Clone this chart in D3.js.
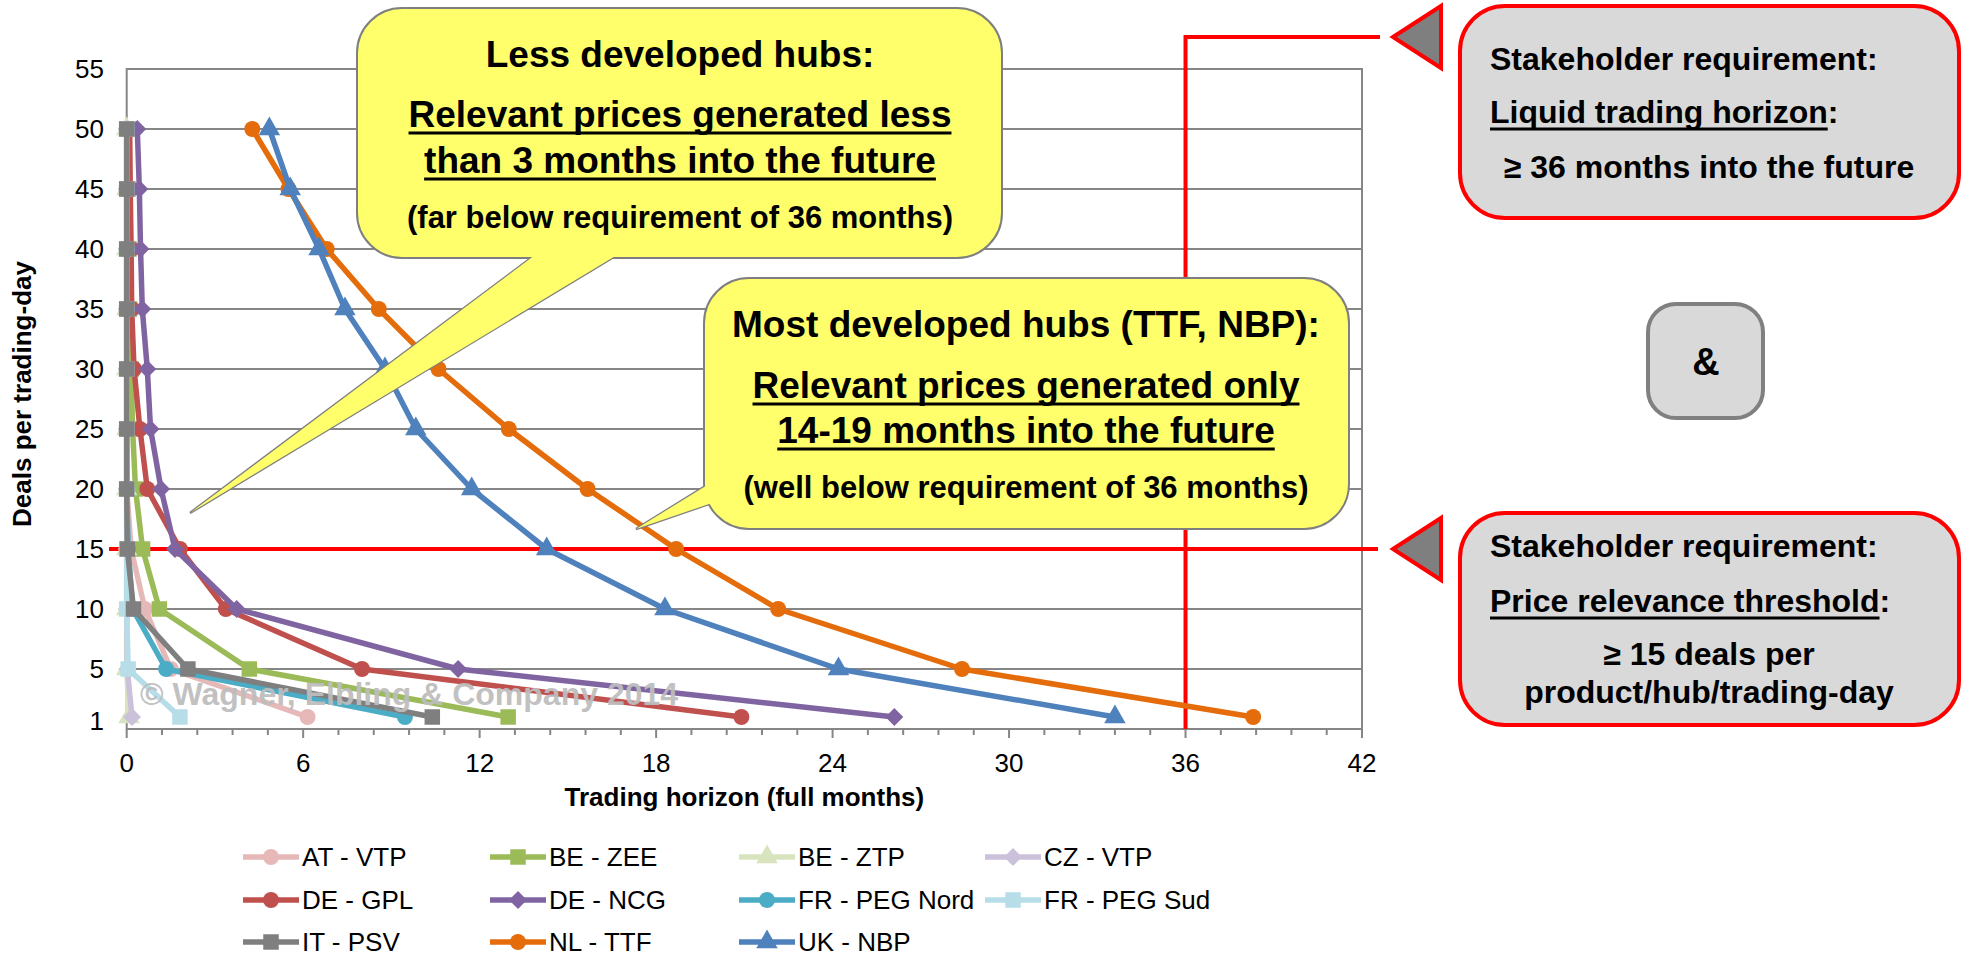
<!DOCTYPE html>
<meta charset="utf-8">
<style>
  body { margin: 0; background: #fff; }
  svg text { font-family: "Liberation Sans", Arial, sans-serif; }
</style>
<script src="https://d3js.org/d3.v7.min.js"></script>
<div id="chart"></div>
<script>
// deals-per-day thresholds (y) and the trading horizon reached per hub (x, months)
const levels = [50, 45, 40, 35, 30, 25, 20, 15, 10, 5, 1];
const hubNames = ["AT - VTP", "BE - ZEE", "BE - ZTP", "CZ - VTP", "DE - GPL", "DE - NCG",
                  "FR - PEG Nord", "FR - PEG Sud", "IT - PSV", "NL - TTF", "UK - NBP"];
const hubColors = ["#E6B9B8", "#9BBB59", "#D7E4BD", "#CCC1DA", "#C0504D", "#8064A2",
                   "#4BACC6", "#B7DEE8", "#7F7F7F", "#E46C0A", "#4F81BD"];
const hubMarkers = ["circle", "square", "triangle", "diamond", "circle", "diamond",
                    "circle", "square", "square", "circle", "triangle"];

const horizonAT    = [0, 0, 0, 0, 0, 0, 0, 0.15, 0.62, 1.5, 6.15];
const horizonBEZEE = [0.05, 0.05, 0.08, 0.1, 0.15, 0.2, 0.3, 0.54, 1.11, 4.17, 12.97];
const horizonBEZTP = [0, 0, 0, 0, 0, 0, 0, 0, 0, 0, 0.08];
const horizonCZ    = [0, 0, 0, 0, 0, 0, 0, 0, 0, 0.02, 0.18];
const horizonGPL   = [0.1, 0.12, 0.15, 0.17, 0.25, 0.45, 0.7, 1.81, 3.37, 8.0, 20.9];
const horizonNCG   = [0.36, 0.43, 0.47, 0.53, 0.7, 0.81, 1.17, 1.64, 3.74, 11.27, 26.1];
const horizonPEGN  = [0, 0, 0, 0, 0, 0, 0, 0.05, 0.2, 1.34, 9.46];
const horizonPEGS  = [0, 0, 0, 0, 0, 0, 0, 0, 0, 0.05, 1.81];
const horizonPSV   = [0, 0, 0, 0, 0, 0, 0, 0.02, 0.23, 2.08, 10.39];
const horizonTTF   = [4.27, 5.5, 6.8, 8.57, 10.6, 12.99, 15.67, 18.68, 22.15, 28.4, 38.3];
const horizonNBP   = [4.85, 5.56, 6.54, 7.42, 8.78, 9.83, 11.73, 14.28, 18.3, 24.2, 33.6];

const horizons = [horizonAT, horizonBEZEE, horizonBEZTP, horizonCZ, horizonGPL, horizonNCG,
                  horizonPEGN, horizonPEGS, horizonPSV, horizonTTF, horizonNBP];

const xTicks = [0, 6, 12, 18, 24, 30, 36, 42];
const yTicks = [1, 5, 10, 15, 20, 25, 30, 35, 40, 45, 50, 55];
const requiredDeals = 15;
const requiredMonths = 36;

const W = 1970, H = 956;
const plot = {left: 126.7, right: 1362, top: 69, bottom: 729};

const svg = d3.select("#chart").append("svg")
    .attr("width", W).attr("height", H);

const x = d3.scaleLinear().domain([0, 42]).range([plot.left, plot.right]);
const y = d3.scaleLinear().domain([0, 55]).range([plot.bottom, plot.top]);

// gridlines
svg.append("g").selectAll("line")
  .data(yTicks.filter(d => d >= 5))
  .join("line")
    .attr("x1", plot.left).attr("x2", plot.right)
    .attr("y1", d => y(d)).attr("y2", d => y(d))
    .attr("stroke", "#868686").attr("stroke-width", 2);

svg.append("rect")
    .attr("x", plot.left).attr("y", plot.top)
    .attr("width", plot.right - plot.left).attr("height", plot.bottom - plot.top)
    .attr("fill", "none").attr("stroke", "#868686").attr("stroke-width", 2);

// x axis with minor ticks every 1.2 months
const xAxis = svg.append("g").attr("transform", `translate(0,${plot.bottom})`);
xAxis.selectAll("line.minor")
  .data(d3.range(0, 42.01, 1.2))
  .join("line")
    .attr("x1", d => x(d)).attr("x2", d => x(d))
    .attr("y1", 0).attr("y2", d => (Math.abs(d / 6 - Math.round(d / 6)) < 1e-6) ? 9 : 6)
    .attr("stroke", "#868686").attr("stroke-width", 2);
xAxis.selectAll("text")
  .data(xTicks)
  .join("text")
    .attr("x", d => x(d)).attr("y", 43)
    .attr("text-anchor", "middle")
    .style("font-size", "26px")
    .text(d => d);

svg.append("g").selectAll("text")
  .data(yTicks)
  .join("text")
    .attr("x", 104).attr("y", d => y(d) + (d === 1 ? 4 : 0))
    .attr("dy", "0.36em")
    .attr("text-anchor", "end")
    .style("font-size", "26px")
    .text(d => d);

svg.append("text")
    .attr("x", (plot.left + plot.right) / 2).attr("y", 806)
    .attr("text-anchor", "middle")
    .style("font-size", "26px").style("font-weight", "bold")
    .text("Trading horizon (full months)");

svg.append("text")
    .attr("transform", "translate(31,394) rotate(-90)")
    .attr("text-anchor", "middle")
    .style("font-size", "26px").style("font-weight", "bold")
    .text("Deals per trading-day");

// requirement lines
const reqLines = svg.append("g").attr("stroke", "#FF0000").attr("stroke-width", 4).attr("fill", "none");
reqLines.append("line")
    .attr("x1", 109).attr("x2", 1378)
    .attr("y1", y(requiredDeals)).attr("y2", y(requiredDeals));
reqLines.append("path")
    .attr("d", `M${x(requiredMonths)},${plot.bottom} V37 H1380`);

// markers
const symbolFor = {
  circle:   d3.symbol(d3.symbolCircle, 200),
  square:   d3.symbol(d3.symbolSquare, 240),
  triangle: d3.symbol(d3.symbolTriangle, 200),
  diamond:  d3.symbol(d3.symbolSquare, 160)
};
function drawMarker(g, kind, cx, cy, color) {
  g.append("path")
    .attr("d", symbolFor[kind]())
    .attr("transform", `translate(${cx},${cy})` + (kind === "diamond" ? " rotate(45)" : ""))
    .attr("fill", color);
}

const line = d3.line().x(d => x(d[0])).y(d => y(d[1]));
hubNames.forEach((name, i) => {
  const pts = horizons[i].map((v, j) => [v, levels[j]]);
  const g = svg.append("g");
  g.append("path")
    .attr("d", line(pts))
    .attr("fill", "none")
    .attr("stroke", hubColors[i])
    .attr("stroke-width", 5.5)
    .attr("stroke-linejoin", "round");
  pts.forEach(p => drawMarker(g, hubMarkers[i], x(p[0]), y(p[1]), hubColors[i]));
});

// watermark
svg.append("text")
    .attr("x", 140).attr("y", 705)
    .style("font-size", "32px").style("font-weight", "bold")
    .attr("fill", "#BDBDBD").attr("fill-opacity", 0.95)
    .text("\u00A9 Wagner, Elbling & Company 2014");

// legend
const legendCols = [243, 490, 739, 985];
const legendRows = [857, 900, 942];
hubNames.forEach((name, i) => {
  const lx = legendCols[i % 4], ly = legendRows[Math.floor(i / 4)];
  const g = svg.append("g");
  g.append("line")
    .attr("x1", lx).attr("x2", lx + 56)
    .attr("y1", ly).attr("y2", ly)
    .attr("stroke", hubColors[i]).attr("stroke-width", 5.5);
  drawMarker(g, hubMarkers[i], lx + 28, ly, hubColors[i]);
  g.append("text")
    .attr("x", lx + 59).attr("y", ly).attr("dy", "0.36em")
    .style("font-size", "26px")
    .text(name);
});

// callouts
function wedgePts(tip, a, b, ext) {
  const push = p => {
    const dx = p[0] - tip[0], dy = p[1] - tip[1], l = Math.hypot(dx, dy);
    return [p[0] + dx / l * ext, p[1] + dy / l * ext];
  };
  return [push(a), tip, push(b)];
}
function callout(box, wedge, fill, stroke, sw) {
  const g = svg.append("g");
  if (wedge) {
    const pts = wedgePts(wedge[0], wedge[1], wedge[2], 14);
    g.append("path").attr("d", d3.line()(pts) + "Z")
      .attr("fill", fill).attr("stroke", stroke).attr("stroke-width", sw + 0.5);
  }
  g.append("rect")
    .attr("x", box.x).attr("y", box.y).attr("width", box.w).attr("height", box.h)
    .attr("rx", box.r).attr("ry", box.r)
    .attr("fill", fill).attr("stroke", stroke).attr("stroke-width", sw);
  if (wedge) {
    const pts = wedgePts(wedge[0], wedge[1], wedge[2], 14);
    g.append("path").attr("d", d3.line()(pts) + "Z").attr("fill", fill);
  }
  return g;
}
function label(g, tx, ty, str, size, anchor, uLen) {
  const t = g.append("text")
    .attr("x", tx).attr("y", ty)
    .attr("text-anchor", anchor)
    .style("font-size", size + "px").style("font-weight", "bold")
    .text(str);
  if (uLen) {
    const node = t.node();
    const bb = node.getBBox();
    const len = uLen === true ? node.getComputedTextLength() : node.getSubStringLength(0, uLen);
    g.append("line")
      .attr("x1", bb.x).attr("x2", bb.x + len)
      .attr("y1", ty + 6).attr("y2", ty + 6)
      .attr("stroke", "#000").attr("stroke-width", 3);
  }
  return t;
}

const c1 = callout({x: 357, y: 8, w: 645, h: 250, r: 45},
                   [[190, 513], [531, 258], [612, 258]], "#FFFF6B", "#7F7F7F", 2);
label(c1, 680, 67, "Less developed hubs:", 37, "middle");
label(c1, 680, 127, "Relevant prices generated less", 37, "middle", true);
label(c1, 680, 173, "than 3 months into the future", 37, "middle", true);
label(c1, 680, 228, "(far below requirement of 36 months)", 31, "middle");

const c2 = callout({x: 704, y: 278, w: 645, h: 251, r: 45},
                   [[636, 529], [704, 487], [706, 505]], "#FFFF6B", "#7F7F7F", 2);
label(c2, 1026, 337, "Most developed hubs (TTF, NBP):", 37, "middle");
label(c2, 1026, 398, "Relevant prices generated only", 37, "middle", true);
label(c2, 1026, 443, "14-19 months into the future", 37, "middle", true);
label(c2, 1026, 498, "(well below requirement of 36 months)", 31, "middle");

// stakeholder requirement boxes
const cA = callout({x: 1460, y: 6, w: 499, h: 212, r: 45}, null, "#D9D9D9", "#FF0000", 4);
label(cA, 1490, 70, "Stakeholder requirement:", 32, "start");
label(cA, 1490, 123, "Liquid trading horizon:", 32, "start", 22);
label(cA, 1709, 178, "\u2265 36 months into the future", 32, "middle");

const cAnd = callout({x: 1648, y: 304, w: 115, h: 114, r: 28}, null, "#D9D9D9", "#808080", 4);
label(cAnd, 1706, 375, "&", 38, "middle");

const cB = callout({x: 1460, y: 513, w: 499, h: 212, r: 45}, null, "#D9D9D9", "#FF0000", 4);
label(cB, 1490, 557, "Stakeholder requirement:", 32, "start");
label(cB, 1490, 612, "Price relevance threshold:", 32, "start", 25);
label(cB, 1709, 665, "\u2265 15 deals per", 32, "middle");
label(cB, 1709, 703, "product/hub/trading-day", 32, "middle");

// pointer triangles
[37, y(requiredDeals)].forEach(cy => {
  svg.append("path")
    .attr("d", `M1393,${cy} L1441,${cy - 31} L1441,${cy + 31} Z`)
    .attr("fill", "#7F7F7F").attr("stroke", "#FF0000").attr("stroke-width", 4)
    .attr("stroke-linejoin", "miter");
});
</script>
</html>
